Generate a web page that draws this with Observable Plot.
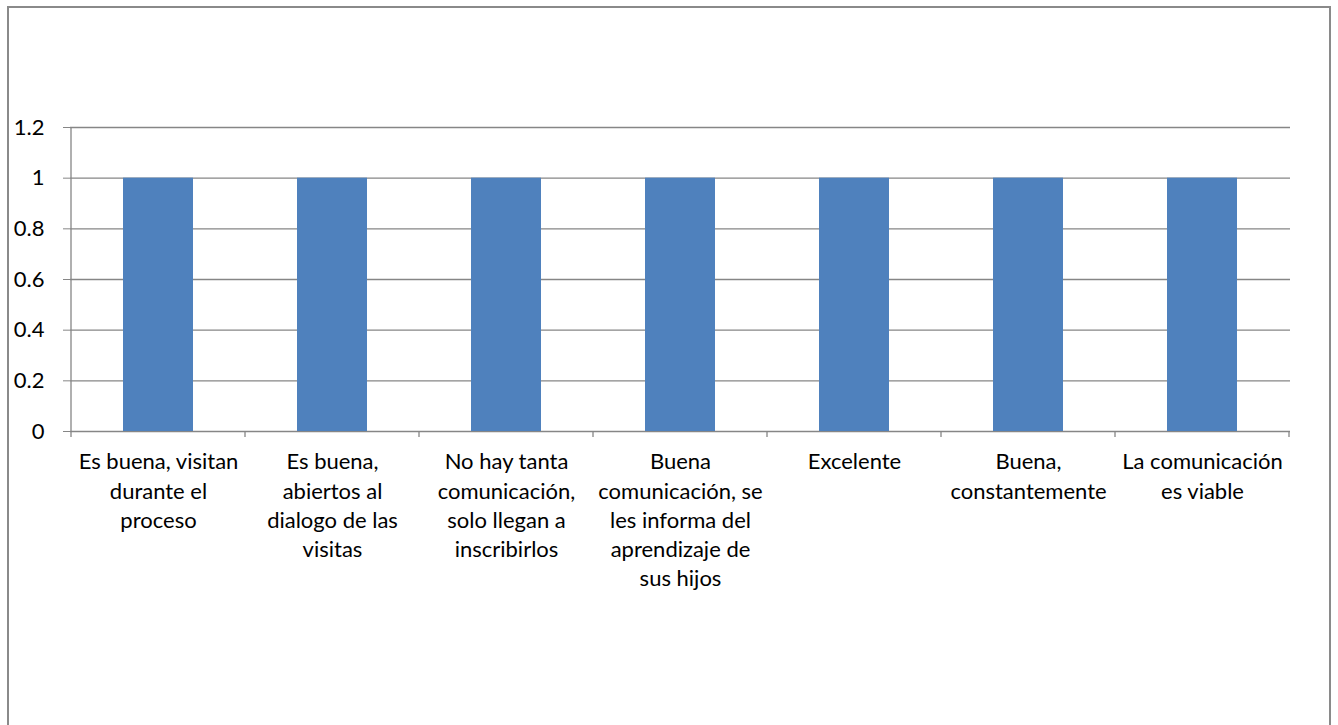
<!DOCTYPE html>
<html><head><meta charset="utf-8">
<script src="https://cdn.jsdelivr.net/npm/d3@7"></script>
<script src="https://cdn.jsdelivr.net/npm/@observablehq/plot@0.6"></script>
<style>
html,body{margin:0;padding:0;background:#fff;overflow:hidden;width:1338px;height:725px;}
#frame{position:absolute;left:7px;top:6px;width:1324px;height:740px;border:2px solid #8a8a8a;box-sizing:border-box;}
#chart{position:absolute;left:0;top:0;}
</style></head>
<body>
<div id="frame"></div>
<div id="chart"></div>
<script>
const categories = [
  "Es buena, visitan\ndurante el\nproceso",
  "Es buena,\nabiertos al\ndialogo de las\nvisitas",
  "No hay tanta\ncomunicación,\nsolo llegan a\ninscribirlos",
  "Buena\ncomunicación, se\nles informa del\naprendizaje de\nsus hijos",
  "Excelente",
  "Buena,\nconstantemente",
  "La comunicación\nes viable"
];
const values = [1, 1, 1, 1, 1, 1, 1];
const yTicks = [0, 0.2, 0.4, 0.6, 0.8, 1, 1.2];

const data = categories.map((c, i) => ({cat: c, v: values[i]}));
const font = "Lato, 'Open Sans', sans-serif";
const gridColor = "#868686";

const plot = Plot.plot({
  width: 1338,
  height: 725,
  marginLeft: 70,
  marginRight: 48,
  marginTop: 127,
  marginBottom: 294,
  style: {fontFamily: font, fontSize: "22px", color: "#000", background: "transparent", overflow: "visible"},
  x: {domain: categories, paddingInner: 0.6, paddingOuter: 0.3},
  y: {domain: [0, 1.2]},
  marks: [
    Plot.ruleY(yTicks, {stroke: gridColor, strokeWidth: 1.3, strokeOpacity: 1}),
    Plot.barY(data, {x: "cat", y: "v", fill: "#4F81BD"}),
    Plot.axisY({ticks: yTicks, tickSize: 7, tickPadding: 19, stroke: gridColor, strokeOpacity: 1, tickFormat: d => String(+d.toFixed(1)), fontSize: 22, fill: "#000", label: null}),
    Plot.axisX({tickSize: 0, tickPadding: 17, lineHeight: 1.33, fontSize: 22, fill: "#000", label: null})
  ]
});
document.getElementById("chart").appendChild(plot);

// boundary ticks on the category axis, positioned from the library's band scale
const xs = plot.scale("x");
const ys = plot.scale("y");
const step = xs.step, bw = xs.bandwidth;
const svg = d3.select(plot);
const y0 = ys.apply(0);
const bounds = categories.map(c => xs.apply(c) + bw / 2 - step / 2);
bounds.push(xs.apply(categories[categories.length - 1]) + bw / 2 + step / 2);
const g = svg.append("g").attr("stroke", gridColor).attr("stroke-width", 1.3);
bounds.forEach(x => g.append("line").attr("x1", x).attr("x2", x).attr("y1", y0).attr("y2", y0 + 6));
g.append("line").attr("x1", bounds[0]).attr("x2", bounds[0]).attr("y1", ys.apply(1.2)).attr("y2", y0);
</script>
</body></html>
